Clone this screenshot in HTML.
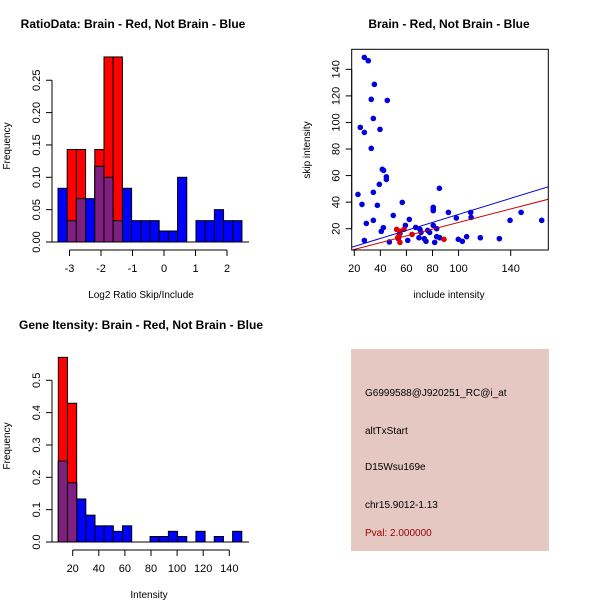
<!DOCTYPE html>
<html><head><meta charset="utf-8"><style>
body{margin:0;background:#fff;}
svg{display:block;font-family:"Liberation Sans",sans-serif;}
</style></head><body>
<svg id="c" width="600" height="600" xmlns="http://www.w3.org/2000/svg"></svg>
<script>
// Panel 1: ratio histogram
const ratioBlue=[0.083,0.033,0.067,0.067,0.117,0.1,0.033,0.083,0.033,0.033,0.033,0.017,0.017,0.1,0,0.033,0.033,0.05,0.033,0.033];
const ratioRed=[0,0.143,0.143,0,0.143,0.286,0.286,0,0,0,0,0,0,0,0,0,0,0,0,0];
const ratioXTicks=[-3,-2,-1,0,1,2];
const ratioYTicks=[0,0.05,0.10,0.15,0.20,0.25];
const ratioYLabels=["0.00","0.05","0.10","0.15","0.20","0.25"];
const ratioBinStart=-3.365, ratioBinWidth=0.292;
// Panel 2: scatter
const blueX=[27.7,30.7,35.4,33,45.3,34.6,24.6,27.7,39.7,33,41.5,42.5,44.6,44.6,39.2,85.3,22.8,34.6,56.8,25.9,37.7,80.6,80.6,80.6,92.2,109.3,148,49.9,98.3,109.6,62.2,34.6,139.5,163.8,29.2,59.2,42.3,67.1,80.6,40.7,70.4,76.3,83.2,71.2,77.8,61,27.7,46.9,69.6,73.7,75,83.2,85.5,81.7,99.8,102.9,106.2,116.7,131.3,53.8,55];
const blueY=[149,146.5,128.7,117.4,116.6,103,96.3,92.5,94.8,80.5,64.7,63.9,59.1,57.1,53.4,50.4,45.8,47.4,39.8,38.3,37.6,36.1,34.6,33.6,32.3,32.3,32.3,30,28,28.5,27,26.3,26.3,26.3,24,22.5,20.8,21,22.5,18,19.5,18.7,20,17.2,17.2,11.2,11.2,10,13.2,12.5,10.5,14,13.2,9.7,12,10.5,14,13.2,12.5,12.5,16.5];
const redX=[52.5,55,58.1,64.3,54.3,55,88.8,53.3];
const redY=[19.5,18,19.5,15.7,14.7,9.7,12,13.2];
const blueFit=[0.6,0.302];
const redFit=[-0.7,0.254];
const scXTicks=[20,40,60,80,100,140];
const scYTicks=[20,40,60,80,100,120,140];
// Panel 3: intensity histogram
const intBlue=[0.25,0.183,0.133,0.083,0.05,0.05,0.033,0.05,0,0,0.017,0.017,0.033,0.017,0,0.033,0,0.017,0,0.033];
const intRed=[0.571,0.429,0,0,0,0,0,0,0,0,0,0,0,0,0,0,0,0,0,0];
const intXTicks=[20,40,60,80,100,120,140];
const intYTicks=[0,0.1,0.2,0.3,0.4,0.5];
const intYLabels=["0.0","0.1","0.2","0.3","0.4","0.5"];
const intBinStart=8.97, intBinWidth=7.03;

const svg=document.getElementById('c');
const NS='http://www.w3.org/2000/svg';
function mk(tag,attrs,parent){const e=document.createElementNS(NS,tag);for(const k in attrs)e.setAttribute(k,attrs[k]);(parent||svg).appendChild(e);return e;}
function txt(s,x,y,opts,parent){const t=mk('text',Object.assign({x:x,y:y,'font-size':11,'text-anchor':'middle',fill:'#000'},opts||{}),parent);t.textContent=s;return t;}

function hist(g,blue,red,binStart,binW,sx,sy,y0){
  for(let i=0;i<blue.length;i++){
    const a=binStart+i*binW,b=a+binW;
    const x1=sx(a),x2=sx(b);
    if(blue[i]>0){const r=mk('rect',{x:x1,y:sy(blue[i]),width:x2-x1,height:y0-sy(blue[i]),fill:'#0000ff',stroke:'#000','stroke-width':1},g);
      
      }
  }
  for(let i=0;i<red.length;i++){
    if(red[i]<=0)continue;
    const a=binStart+i*binW,b=a+binW;const x1=sx(a),x2=sx(b);
    const r=mk('rect',{x:x1,y:sy(red[i]),width:x2-x1,height:y0-sy(red[i]),fill:'#ff0000',stroke:'#000','stroke-width':1},g);
    
    
    const m=Math.min(red[i],blue[i]);
    if(m>0){const p=mk('rect',{x:x1,y:sy(m),width:x2-x1,height:y0-sy(m),fill:'#7f1f7f',stroke:'#000','stroke-width':1},g);
      
      }
  }
}
function yaxis(g,x,ticks,labels,sy){
  mk('line',{x1:x,x2:x,y1:sy(ticks[0]),y2:sy(ticks[ticks.length-1]),stroke:'#000'},g);
  ticks.forEach((t,i)=>{const y=sy(t);mk('line',{x1:x-6,x2:x,y1:y,y2:y,stroke:'#000'},g);
    txt(labels[i],x-12,y,{transform:`rotate(-90 ${x-12} ${y})`},g);});
}
function xaxis(g,y,ticks,sx){
  mk('line',{x1:sx(ticks[0]),x2:sx(ticks[ticks.length-1]),y1:y,y2:y,stroke:'#000'},g);
  ticks.forEach(t=>{const x=sx(t);mk('line',{x1:x,x2:x,y1:y,y2:y+6,stroke:'#000'},g);txt(String(t),x,y+22,{},g);});
}

// Panel 1
{
  const g=mk('g',{});
  const sx=v=>69.5+(v+3)*31.5, sy=v=>242-v*647;
  txt('RatioData: Brain - Red, Not Brain - Blue',133,28,{'font-weight':'bold','font-size':12},g);
  hist(g,ratioBlue,ratioRed,ratioBinStart,ratioBinWidth,sx,sy,242);
  mk('line',{x1:52,x2:249,y1:242,y2:242,stroke:'#000'},g);
  yaxis(g,52,ratioYTicks,ratioYLabels,sy);
  xaxis(g,250,ratioXTicks,sx);
  txt('Log2 Ratio Skip/Include',141,298,{'font-size':10},g);
  txt('Frequency',10,146,{'font-size':10,transform:'rotate(-90 10 146)'},g);
}
// Panel 2
{
  const g=mk('g',{});
  const sx=v=>354.3+(v-20)*1.3033, sy=v=>228.7-(v-20)*1.328;
  txt('Brain - Red, Not Brain - Blue',449,28,{'font-weight':'bold','font-size':12},g);
  const clip=mk('clipPath',{id:'cp'},g);mk('rect',{x:352,y:49,width:196,height:201},clip);
  const pg=mk('g',{'clip-path':'url(#cp)'},g);
  blueX.forEach((x,i)=>{const c=mk('circle',{cx:sx(x),cy:sy(blueY[i]),r:2.8,fill:'#0000dd'},pg);
    
    });
  redX.forEach((x,i)=>{const c=mk('circle',{cx:sx(x),cy:sy(redY[i]),r:2.8,fill:'#dd0000'},pg);
    
    });
  const l1=mk('line',{x1:sx(10),y1:sy(blueFit[0]+blueFit[1]*10),x2:sx(180),y2:sy(blueFit[0]+blueFit[1]*180),stroke:'#0000cc'},pg);
  
  const l2=mk('line',{x1:sx(10),y1:sy(redFit[0]+redFit[1]*10),x2:sx(180),y2:sy(redFit[0]+redFit[1]*180),stroke:'#cc0000'},pg);
  
  mk('rect',{x:351.7,y:49.3,width:196.6,height:200.7,fill:'none',stroke:'#000'},g);
  yaxis(g,351.7,scYTicks,scYTicks.map(String),sy);
  xaxis(g,250,scXTicks,sx);
  txt('include intensity',449,298,{'font-size':10},g);
  txt('skip intensity',310,150,{'font-size':10,transform:'rotate(-90 310 150)'},g);
}
// Panel 3
{
  const g=mk('g',{});
  const sx=v=>72.7+(v-20)*1.305, sy=v=>542-v*323.4;
  txt('Gene Itensity: Brain - Red, Not Brain - Blue',141,329,{'font-weight':'bold','font-size':12},g);
  hist(g,intBlue,intRed,intBinStart,intBinWidth,sx,sy,542);
  mk('line',{x1:52,x2:249,y1:542,y2:542,stroke:'#000'},g);
  yaxis(g,52,intYTicks,intYLabels,sy);
  xaxis(g,550,intXTicks,sx);
  txt('Intensity',149,598,{'font-size':10},g);
  txt('Frequency',10,446,{'font-size':10,transform:'rotate(-90 10 446)'},g);
}
// Panel 4: info box
{
  const g=mk('g',{});
  mk('rect',{x:351,y:349,width:198,height:202,fill:'#e5c8c2'},g);
  const lines=[['G6999588@J920251_RC@i_at',396,'#000'],['altTxStart',434,'#000'],['D15Wsu169e',470,'#000'],['chr15.9012-1.13',508,'#000'],['Pval: 2.000000',536,'#990000']];
  lines.forEach(l=>{const t=txt(l[0],365,l[1],{'text-anchor':'start','font-size':10,fill:l[2]},g);});
}
</script>
</body></html>
